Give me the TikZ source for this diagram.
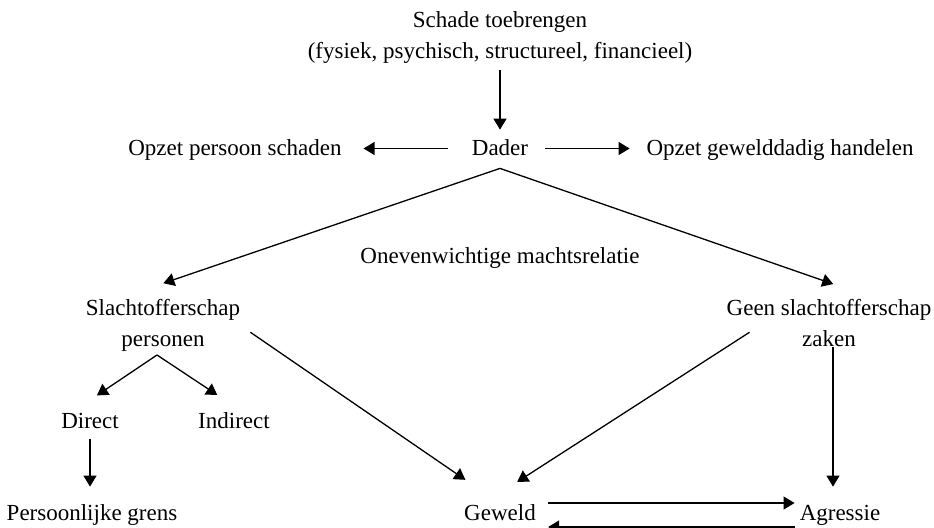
\documentclass[tikz,border=0pt]{standalone}
\usepackage{fontspec}
\setmainfont{Liberation Serif}
\usepackage{tikz}
\usetikzlibrary{arrows.meta}

\begin{document}
\begin{tikzpicture}[x=0.5pt, y=0.5pt,
    every node/.style={inner sep=0pt, font=\fontsize{11.5}{15.5}\selectfont},
    tekst/.style={anchor=base, text height=8pt, text depth=1.5pt},
    blok/.style={anchor=north, align=center},
    pijl/.style={-{Triangle[length=5.5pt, width=6.5pt]}, line width=0.65pt}]
    \useasboundingbox (0,0) rectangle (934,527);

    % Nodes bovenaan
    \node[blok] (schade) at (500,516) {Schade toebrengen\\(fysiek, psychisch, structureel, financieel)};
    \node[tekst] (dader) at (500,372) {Dader};
    \node[tekst] (persoon) at (235,372) {Opzet persoon schaden};
    \node[tekst] (handelen) at (780,372) {Opzet gewelddadig handelen};
    \node[tekst] (macht) at (500,264) {Onevenwichtige machtsrelatie};

    % Nodes slachtofferschap
    \node[blok] (personen) at (163,228) {Slachtofferschap\\personen};
    \node[blok] (zaken) at (829,228) {Geen slachtofferschap\\zaken};
    \node[tekst] (direct) at (90,99) {Direct};
    \node[tekst] (indirect) at (234,99) {Indirect};
    \coordinate (splits) at (157,172);

    % Nodes onderaan
    \node[tekst] (grens) at (92,7) {Persoonlijke grens};
    \node[tekst] (geweld) at (500,7) {Geweld};
    \node[tekst] (agressie) at (840,7) {Agressie};

    % Pijlen rond dader
    \draw[pijl, shorten <=3pt, shorten >=4.5pt] (schade.south) -- (dader.north);
    \draw[pijl, shorten <=12pt, shorten >=10.75pt] (dader.west) -- (persoon.east);
    \draw[pijl, shorten <=8.5pt, shorten >=8.25pt] (dader.east) -- (handelen.west);
    \draw[pijl, shorten >=24.4pt] ([yshift=-5pt]dader.south) -- (personen.150);
    \draw[pijl, shorten >=22.8pt] ([yshift=-5pt]dader.south) -- (zaken.27);

    % Pijlen slachtofferschap
    \draw[pijl, shorten >=14.5pt] (splits) -- (direct.150);
    \draw[pijl, shorten >=15pt] (splits) -- (indirect.50);
    \draw[pijl, shorten <=4pt, shorten >=8.5pt] (direct.south) -- (direct.south |- grens.north);
    \draw[pijl, shorten <=6pt, shorten >=21pt] (personen.east) -- (geweld.north);
    \draw[pijl, shorten <=-13.8pt, shorten >=20pt] (zaken.south west) -- (geweld.149);
    \draw[pijl, shorten >=8.5pt] ([xshift=2pt]zaken.south) -- ([xshift=2pt]zaken.south |- agressie.north);

    % Geweld en agressie
    \draw[pijl, shorten <=6pt, shorten >=2.4pt] ([yshift=5.25pt]geweld.east) -- ([yshift=5.25pt]agressie.west);
    \draw[pijl, shorten <=2.4pt, shorten >=6pt] ([yshift=-6.75pt]agressie.west) -- ([yshift=-6.75pt]geweld.east);
\end{tikzpicture}
\end{document}
